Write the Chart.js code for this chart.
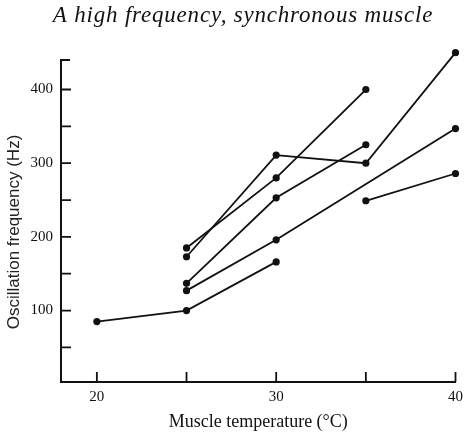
<!DOCTYPE html>
<html>
<head>
<meta charset="utf-8">
<script src="https://cdn.jsdelivr.net/npm/chart.js@4/dist/chart.umd.min.js"></script>
<style>
  html,body{margin:0;padding:0;background:#fff;}
  #wrap{width:469px;height:434px;}
</style>
</head>
<body>
<div id="wrap"><canvas id="muscleChart" width="469" height="434"></canvas></div>
<script>
// temperatures (°C) shared by all runs; null = no measurement
const temperatures=[20,25,30,35,40];
const run1=[85,100,166,null,null];
const run2=[null,127,196,null,347];
const run3=[null,137,253,325,null];
const run4=[null,185,280,400,null];
const run5=[null,173,311,300,450];
const run6=[null,null,null,249,286];

const xTicks=[20,25,30,35,40];
const xTickLabels=['20','','30','','40'];
const yTicks=[50,100,150,200,250,300,350,400];
const yTickLabels=['','100','','200','','300','','400'];
const yAxisEnd=440;

const chartTitle='A high frequency, synchronous muscle';
const xTitle='Muscle temperature (°C)';
const yTitle='Oscillation frequency (Hz)';

function toPoints(vals){
    return temperatures.map((t,i)=>({x:t,y:vals[i]})).filter(p=>p.y!==null);
}

const runs=[run1,run2,run3,run4,run5,run6];
const datasets=runs.map((r,i)=>({
    label:'run '+(i+1),
    data:toPoints(r),
    borderColor:'#111',
    backgroundColor:'#111',
    borderWidth:1.8,
    pointRadius:3.6,
    pointBorderWidth:0,
    tension:0,
    clip:false
}));

// title, y axis line/title, and tick marks pointing into the plot
const extras={
    id:'extras',
    afterDraw(chart){
        const ctx=chart.ctx;
        const x=chart.scales.x, y=chart.scales.y;
        ctx.save();
        ctx.fillStyle='#111';
        ctx.font='italic 23px "Liberation Serif", "Times New Roman", serif';
        ctx.letterSpacing='0.8px';
        ctx.textAlign='center';
        ctx.textBaseline='alphabetic';
        ctx.fillText(chartTitle,243,22);
        ctx.letterSpacing='0px';

        // y axis title
        ctx.save();
        ctx.translate(14,232);
        ctx.rotate(-Math.PI/2);
        ctx.fillStyle='#222';
        ctx.font='17px "Liberation Sans", Arial, sans-serif';
        ctx.textBaseline='middle';
        ctx.fillText(yTitle,0,0);
        ctx.restore();

        ctx.strokeStyle='#111';
        ctx.lineWidth=2;
        const topPx=y.getPixelForValue(yAxisEnd);
        ctx.beginPath();
        ctx.moveTo(y.right,x.top+1);
        ctx.lineTo(y.right,topPx);
        ctx.lineTo(y.right+9,topPx);
        ctx.stroke();

        ctx.lineWidth=1.8;
        ctx.beginPath();
        xTicks.forEach(v=>{
            const px=x.getPixelForValue(v);
            ctx.moveTo(px,x.top);
            ctx.lineTo(px,x.top-10);
        });
        yTicks.forEach(v=>{
            const py=y.getPixelForValue(v);
            ctx.moveTo(y.right,py);
            ctx.lineTo(y.right+10,py);
        });
        ctx.stroke();
        ctx.restore();
    }
};

const serif='"Liberation Serif", "Times New Roman", serif';

new Chart(document.getElementById('muscleChart'),{
    type:'line',
    data:{datasets:datasets},
    options:{
        responsive:false,
        animation:false,
        devicePixelRatio:1,
        layout:{padding:{top:49,right:12,left:0,bottom:0}},
        plugins:{
            legend:{display:false},
            title:{display:false},
            tooltip:{enabled:false}
        },
        scales:{
            x:{
                type:'linear',
                min:18,
                max:40,
                afterBuildTicks:s=>{s.ticks=xTicks.map(v=>({value:v}));},
                afterFit:s=>{s.height=52;},
                ticks:{
                    color:'#111',
                    font:{family:serif,size:15},
                    padding:6,
                    maxRotation:0,
                    autoSkip:false,
                    callback:(v)=>xTickLabels[xTicks.indexOf(v)]
                },
                grid:{display:true,drawOnChartArea:false,drawTicks:false},
                border:{display:true,color:'#111',width:2},
                title:{
                    display:true,
                    text:xTitle,
                    color:'#111',
                    font:{family:serif,size:18},
                    padding:{top:0,bottom:1}
                }
            },
            y:{
                type:'linear',
                min:3,
                max:455,
                afterBuildTicks:s=>{s.ticks=yTicks.map(v=>({value:v}));},
                afterFit:s=>{s.width=61;},
                ticks:{
                    color:'#111',
                    font:{family:serif,size:15},
                    padding:8,
                    autoSkip:false,
                    callback:(v)=>yTickLabels[yTicks.indexOf(v)]
                },
                grid:{display:false,drawOnChartArea:false,drawTicks:false},
                border:{display:false},
                title:{display:false}
            }
        }
    },
    plugins:[extras]
});
</script>
</body>
</html>
